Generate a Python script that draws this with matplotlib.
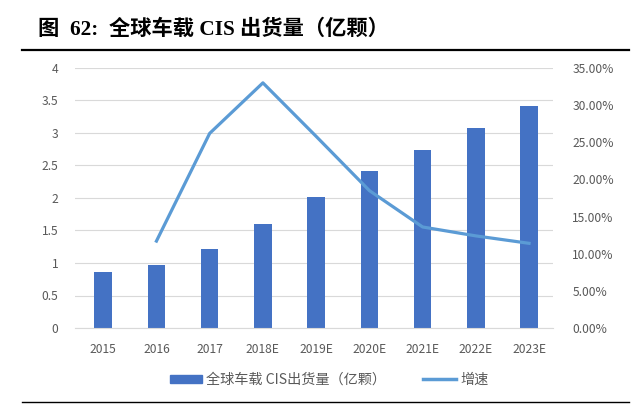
import matplotlib.pyplot as plt
from matplotlib.ticker import FuncFormatter
from matplotlib.lines import Line2D

years = ['2015', '2016', '2017', '2018E', '2019E', '2020E', '2021E', '2022E', '2023E']
shipments = [0.86, 0.97, 1.22, 1.60, 2.02, 2.42, 2.74, 3.08, 3.42]
growth_years = years[1:]
growth = [11.7, 26.2, 33.0, 25.8, 18.5, 13.6, 12.4, 11.4]

bar_color = '#4472C4'
line_color = '#5B9BD5'
tick_color = '#595959'

plt.rcParams['font.family'] = ['Noto Sans CJK SC', 'DejaVu Sans']

fig = plt.figure(figsize=(6.4, 4.04), dpi=100)
ax = fig.add_axes([75 / 640, 76 / 404, 478 / 640, 260 / 404])
ax2 = ax.twinx()

x = list(range(len(years)))
ax.bar(x, shipments, width=0.33, color=bar_color, zorder=2)
ax2.plot(x[1:], [g / 100 for g in growth], color=line_color, lw=2.3, zorder=3)

ax.set_xlim(-0.53, 8.45)
ax.set_ylim(0, 4)
ax.set_yticks([0, 0.5, 1, 1.5, 2, 2.5, 3, 3.5, 4])
ax.yaxis.set_major_formatter(FuncFormatter(lambda v, p: f'{v:g}'))
ax2.set_ylim(0, 0.35)
ax2.set_yticks([i * 0.05 for i in range(8)])
ax2.yaxis.set_major_formatter(FuncFormatter(lambda v, p: f'{v * 100:.2f}%'))

ax.set_xticks(x)
ax.set_xticklabels(years)
ax.grid(axis='y', color='#D9D9D9', lw=0.8, zorder=0)
ax.set_axisbelow(True)

for a in (ax, ax2):
    for s in a.spines.values():
        s.set_visible(False)
    a.tick_params(length=0, colors=tick_color, labelsize=8.7)
ax.spines['bottom'].set_visible(True)
ax.spines['bottom'].set_color('#D9D9D9')
ax.tick_params(axis='y', pad=12)
ax.tick_params(axis='x', pad=11)
ax2.tick_params(axis='y', pad=14)

handles = [plt.Rectangle((0, 0), 1, 1, color=bar_color),
           Line2D([0], [0], color=line_color, lw=2.5)]
fig.legend(handles, ['全球车载 CIS出货量（亿颗）', '增速'], loc='center',
           bbox_to_anchor=(329 / 640, 1 - 380 / 404), ncol=2, frameon=False,
           fontsize=10.2, labelcolor=tick_color, handlelength=2.3,
           handletextpad=0.3, columnspacing=2.6, handleheight=0.5)

fig.text(38 / 640, 1 - 30 / 404, '图  62:  全球车载 CIS 出货量（亿颗）',
         fontsize=15.3, fontweight='bold', va='center', ha='left',
         family=['Liberation Serif', 'Noto Sans CJK SC'])
fig.add_artist(Line2D([22 / 640, 629 / 640], [1 - 50 / 404, 1 - 50 / 404], color='black', lw=1.6))
fig.add_artist(Line2D([22 / 640, 629 / 640], [1 - 402 / 404, 1 - 402 / 404], color='black', lw=1.0))

fig.savefig('out.png', dpi=100)
